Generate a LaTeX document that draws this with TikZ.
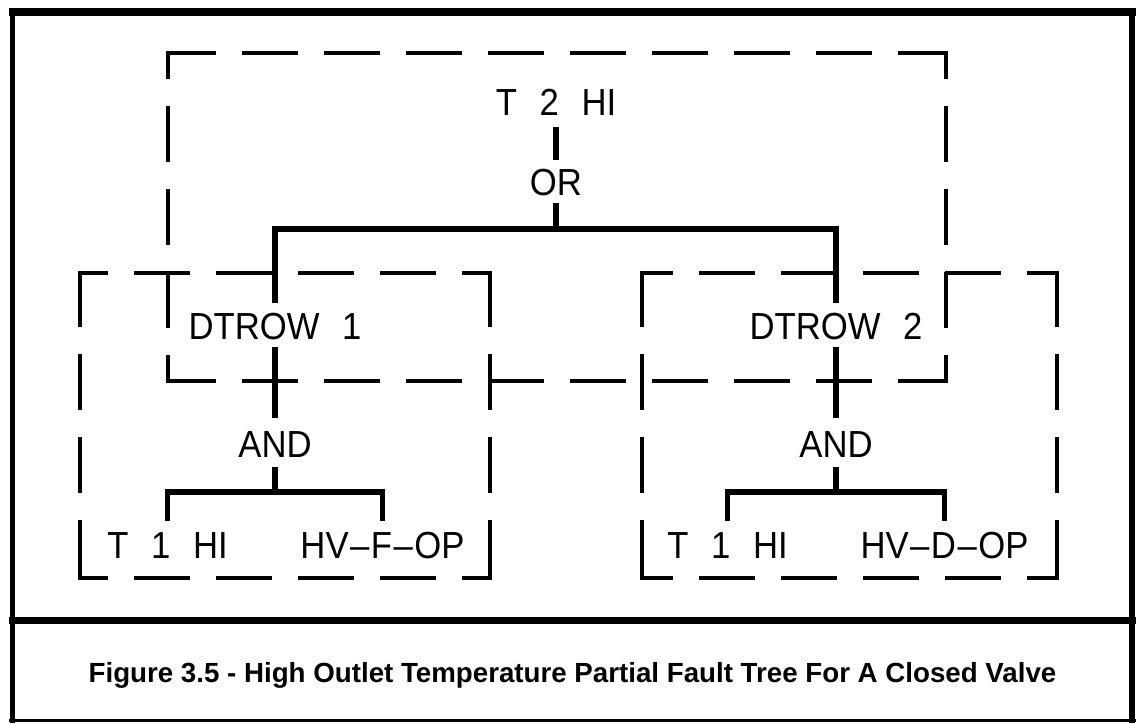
\documentclass[tikz,border=0pt]{standalone}
\usepackage{fontspec}
\setmainfont{Liberation Sans}
\newfontfamily\plotfont{Liberation Sans}[FakeStretch=0.92]
\newcommand{\wsp}{\hspace{0.6em}}
\newcommand{\dsh}{\hspace{1.5pt}\textendash\hspace{1.5pt}}
\begin{document}
\begin{tikzpicture}[x=1pt,y=-1pt,
  grph/.style={line width=3.2pt, line cap=rect, dash pattern=on 52.8pt off 29.2pt},
  grpv/.style={line width=3.2pt, line cap=rect, dash pattern=on 52.8pt off 30.2pt},
  treeline/.style={line width=5.5pt},
  lbl/.style={font=\plotfont\fontsize{37.7}{40}\selectfont, inner sep=0pt,
              text height=27pt, text depth=0pt, anchor=center},
  captxt/.style={font=\bfseries\fontsize{27.7}{30}\selectfont, inner sep=0pt,
              text height=20pt, text depth=0pt, anchor=center}]
\useasboundingbox (0,0) rectangle (1138,723);
\fill[white] (0,0) rectangle (1138,723);

% outer frame
\draw[line width=7.5pt] (9,12) -- (1136,12);
\draw[line width=5pt] (12.5,8) -- (12.5,723);
\draw[line width=6pt] (1132,8) -- (1132,723);
\draw[line width=3.5pt] (9,720.5) -- (1136,720.5);
\draw[line width=7pt] (9,620) -- (1136,620);

% caption
\node[captxt] (cap) at (572.5,672) {Figure 3.5 - High Outlet Temperature Partial Fault Tree For A Closed Valve};

% tree labels
\node[lbl] (t2)  at (556,101.5) {T\wsp 2\wsp HI};
\node[lbl] (or)  at (556,181.5) {OR};
\node[lbl] (d1)  at (275,326) {DTROW\wsp 1};
\node[lbl] (d2)  at (836,326) {DTROW\wsp 2};
\node[lbl] (a1)  at (275,443.5) {AND};
\node[lbl] (a2)  at (836,443.5) {AND};
\node[lbl] (l1a) at (167.5,545) {T\wsp 1\wsp HI};
\node[lbl] (l1b) at (382.5,545) {HV\dsh F\dsh OP};
\node[lbl] (l2a) at (727.5,545) {T\wsp 1\wsp HI};
\node[lbl] (l2b) at (944.5,545) {HV\dsh D\dsh OP};

\coordinate (b0)  at (556,229);
\coordinate (ab1) at (275,492);
\coordinate (ab2) at (836,492);

% connectors
\draw[treeline, shorten <=12pt, shorten >=8pt] (t2.south) -- (or.north);
\draw[treeline, shorten <=8pt] (or.south) -- (b0);
\draw[treeline, shorten <=9pt, shorten >=9pt] (d1.north) -- (d1.north |- b0) -- (d2.north |- b0) -- (d2.north);
\draw[treeline, shorten <=7pt, shorten >=12pt] (d1.south) -- (a1.north);
\draw[treeline, shorten <=7pt, shorten >=12pt] (d2.south) -- (a2.north);
\draw[treeline, shorten <=10pt] (a1.south) -- (ab1);
\draw[treeline, shorten <=10pt] (a2.south) -- (ab2);
\draw[treeline, shorten <=10pt, shorten >=10pt] (l1a.north) -- (l1a.north |- ab1) -- (l1b.north |- ab1) -- (l1b.north);
\draw[treeline, shorten <=10pt, shorten >=10pt] (l2a.north) -- (l2a.north |- ab2) -- (l2b.north |- ab2) -- (l2b.north);

% dashed group boxes
\coordinate (tA) at (168,53);  \coordinate (tB) at (946,381);
\coordinate (lA) at (80,273);  \coordinate (lB) at (490,578);
\coordinate (rA) at (642,273); \coordinate (rB) at (1057,578);

\draw[grph, dash phase=6.4pt]  (tA) -- (tA -| tB);
\draw[grph, dash phase=6.4pt]  (tA |- tB) -- (tB);
\draw[grpv, dash phase=28.4pt] (tA) -- (tA |- tB);
\draw[grpv, dash phase=28.4pt] (tA -| tB) -- (tB);

\draw[grph, dash phase=26.4pt] (lA) -- (lA -| lB);
\draw[grph, dash phase=26.4pt] (lA |- lB) -- (lB);
\draw[grpv, dash phase=0pt]    (lA) -- (lA |- lB);
\draw[grpv, dash phase=0pt]    (lA -| lB) -- (lB);

\draw[grph, dash phase=23.9pt] (rA) -- (rA -| rB);
\draw[grph, dash phase=23.9pt] (rA |- rB) -- (rB);
\draw[grpv, dash phase=0pt]    (rA) -- (rA |- rB);
\draw[grpv, dash phase=0pt]    (rA -| rB) -- (rB);
\end{tikzpicture}
\end{document}
